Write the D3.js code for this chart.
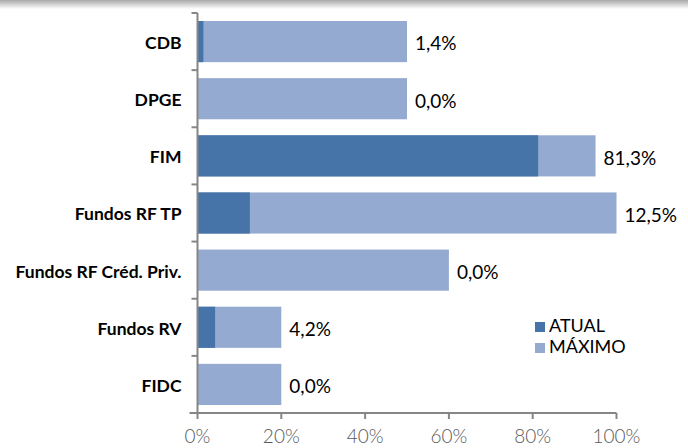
<!DOCTYPE html>
<html><head><meta charset="utf-8">
<script src="https://cdn.jsdelivr.net/npm/d3@7"></script>
<style>body{margin:0;background:#fff}svg{display:block}</style>
</head><body>
<svg id="c" width="688" height="448"></svg>
<script>
const categories = ["CDB","DPGE","FIM","Fundos RF TP","Fundos RF Créd. Priv.","Fundos RV","FIDC"];
const atual = [1.4, 0.0, 81.3, 12.5, 0.0, 4.2, 0.0];
const maximo = [50, 50, 95, 100, 60, 20, 20];
const labels = ["1,4%","0,0%","81,3%","12,5%","0,0%","4,2%","0,0%"];
const ticks = [0,20,40,60,80,100];
const seriesNames = ["ATUAL","MÁXIMO"];
const colors = ["#4673A8","#95AAD1"];

const svg = d3.select("#c");
const defs = svg.append("defs");
const g0 = defs.append("linearGradient").attr("id","tg").attr("x1",0).attr("y1",0).attr("x2",0).attr("y2",1);
g0.append("stop").attr("offset","0%").attr("stop-color","#a8a8a8");
g0.append("stop").attr("offset","100%").attr("stop-color","#ffffff");
svg.append("rect").attr("x",0).attr("y",0).attr("width",688).attr("height",9).attr("fill","url(#tg)");

const x = d3.scaleLinear().domain([0,100]).range([197.5,616.5]);
const y = d3.scaleBand().domain(categories).range([13,413]).paddingInner(0.28).paddingOuter(0.14);
const data = categories.map((c,i)=>({c, a:atual[i], m:maximo[i], l:labels[i]}));

svg.selectAll("rect.m").data(data).join("rect").attr("class","m")
  .attr("x",x(0)).attr("y",d=>y(d.c)).attr("width",d=>x(d.m)-x(0)).attr("height",y.bandwidth())
  .attr("fill",colors[1]);
svg.selectAll("rect.a").data(data).join("rect").attr("class","a")
  .attr("x",x(0)).attr("y",d=>y(d.c)).attr("width",d=>x(d.a)-x(0)).attr("height",y.bandwidth())
  .attr("fill",colors[0]);

svg.selectAll("text.v").data(data).join("text").attr("class","v")
  .attr("x",d=>x(d.m)+8).attr("y",d=>y(d.c)+y.bandwidth()/2+4)
  .attr("dominant-baseline","middle")
  .attr("font-family","Lato").attr("font-size",19).attr("fill","#000").text(d=>d.l);

// category axis
const ya = svg.append("g").attr("transform",`translate(${x(0)},0)`);
ya.append("line").attr("x1",0).attr("x2",0).attr("y1",13).attr("y2",413).attr("stroke","#868686").attr("stroke-width",2);
const bounds = d3.range(categories.length+1).map(i=>13+i*(400/categories.length));
ya.selectAll("line.t").data(bounds).join("line").attr("class","t")
  .attr("x1",-6).attr("x2",0).attr("y1",d=>d).attr("y2",d=>d).attr("stroke","#868686").attr("stroke-width",2);
ya.selectAll("text").data(categories).join("text")
  .attr("x",-16).attr("y",c=>y(c)+y.bandwidth()/2+3).attr("text-anchor","end").attr("dominant-baseline","middle")
  .attr("font-family","Lato").attr("font-weight","bold").attr("font-size",17.5).attr("fill","#000").text(c=>c);

// value axis
const xa = svg.append("g").attr("transform","translate(0,413)");
xa.append("line").attr("x1",x(0)-8).attr("x2",x(100)).attr("y1",0).attr("y2",0).attr("stroke","#868686").attr("stroke-width",2);
xa.selectAll("line.t").data(ticks).join("line").attr("class","t")
  .attr("x1",d=>x(d)).attr("x2",d=>x(d)).attr("y1",0).attr("y2",6).attr("stroke","#868686").attr("stroke-width",2);
xa.selectAll("text").data(ticks).join("text")
  .attr("x",d=>x(d)).attr("y",30).attr("text-anchor","middle")
  .attr("font-family","Lato").attr("font-weight",300).attr("font-size",19).attr("fill","#595959").text(d=>d+"%");

// legend
const lg = svg.append("g").attr("transform","translate(535,322)");
seriesNames.forEach((n,i)=>{
  lg.append("rect").attr("x",0).attr("y",i*21).attr("width",10).attr("height",10).attr("fill",colors[i]);
  lg.append("text").attr("x",14).attr("y",i*21+5).attr("dominant-baseline","middle")
    .attr("font-family","Lato").attr("font-size",18).attr("fill","#000").text(n);
});
</script>
</body></html>
